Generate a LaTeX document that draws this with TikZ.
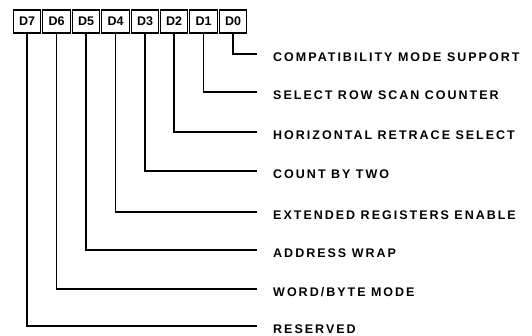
\documentclass[tikz,border=0pt]{standalone}
\usepackage{fontspec}
\setmainfont{Liberation Sans}
\newfontfamily\lblfont[LetterSpace=16]{Liberation Sans}
\tikzset{
  bitbox/.style={draw, line width=1.1pt, minimum width=27.5pt, minimum height=23pt, inner sep=0pt, font=\fontsize{12.5}{13}\selectfont\bfseries},
  desc/.style={anchor=west, inner sep=0pt, font=\fontsize{12.5}{14}\lblfont\bfseries},
  wire/.style={line width=1.1pt}
}
\begin{document}
\begin{tikzpicture}[x=1pt,y=-1pt]
\useasboundingbox (0,0) rectangle (532,335);
\foreach \i/\xx in {7/27,6/56.5,5/86,4/115.5,3/145,2/174,1/203.5,0/233}{
  \node[bitbox] (b\i) at (\xx,21.5) {D\i};
}
\foreach \i/\yy/\t in {0/54/{COMPATIBILITY MODE SUPPORT},1/92/{SELECT ROW SCAN COUNTER},2/132/{HORIZONTAL RETRACE SELECT},3/171/{COUNT BY TWO},4/212/{EXTENDED REGISTERS ENABLE},5/250/{ADDRESS WRAP},6/289/{WORD/BYTE MODE},7/326/{RESERVED}}{
  \node[desc] (l\i) at (273,\yy+3) {\t};
  \coordinate (e\i) at (257,\yy);
  \draw[wire] (b\i.south) |- (e\i);
}
\end{tikzpicture}
\end{document}
